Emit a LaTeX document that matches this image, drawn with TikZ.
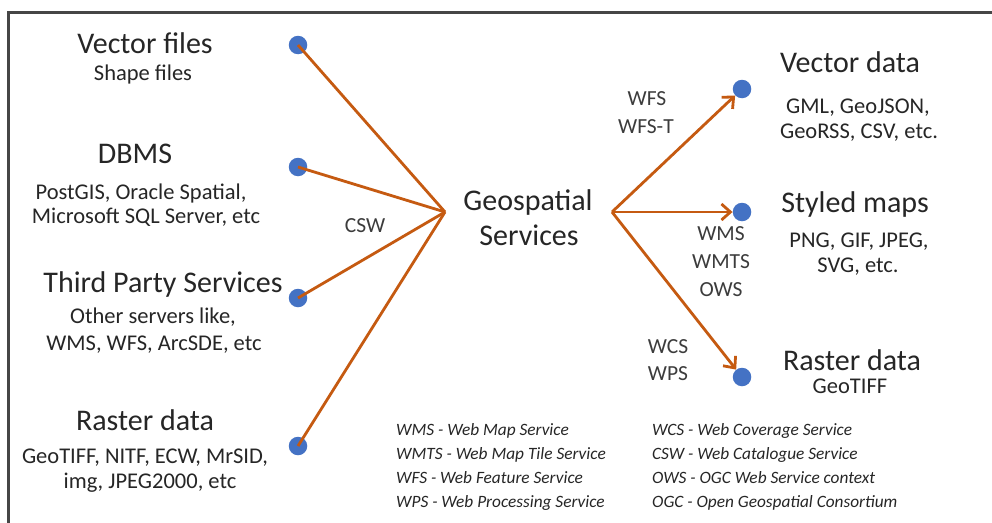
\documentclass[tikz,border=0pt]{standalone}
\usepackage{fontspec}
\setmainfont{Carlito}
\usetikzlibrary{arrows.meta}
\definecolor{linec}{RGB}{197,90,17}
\definecolor{dotc}{RGB}{68,114,196}
\definecolor{txtc}{RGB}{38,38,38}
\definecolor{framec}{RGB}{70,70,70}
\tikzset{
  dotnode/.style={circle,fill=dotc,draw=none,minimum size=18.5pt,inner sep=0pt},
  conn/.style={draw=linec,line width=2.8pt},
  arr/.style={conn,-{Straight Barb[length=9pt,width=16pt,line width=2.8pt]}},
  head/.style={anchor=base,inner sep=0pt,text=txtc,font=\fontsize{30}{36}\selectfont},
  sub/.style={anchor=base,inner sep=0pt,text=txtc,font=\fontsize{22.5}{27}\selectfont},
  lab/.style={anchor=base,inner sep=0pt,text=txtc!90,font=\fontsize{21.5}{26}\selectfont},
  leg/.style={anchor=base west,inner sep=0pt,text=txtc,font=\fontsize{17.3}{21}\selectfont\itshape},
}
\begin{document}
\begin{tikzpicture}[x=1pt,y=-1pt]
\useasboundingbox (0,0) rectangle (992,522);
\fill[white] (0,0) rectangle (992,522);
\draw[framec,line width=3pt] (8,530) -- (8,12) -- (1000,12);

% hubs
\coordinate (hubL) at (445,212);
\coordinate (hubR) at (612,212);

% left dots
\node[dotnode] (d1) at (298,45) {};
\node[dotnode] (d2) at (298,167) {};
\node[dotnode] (d3) at (298,298) {};
\node[dotnode] (d4) at (298,446) {};
% right dots
\node[dotnode] (r1) at (742,89) {};
\node[dotnode] (r2) at (742,212) {};
\node[dotnode] (r3) at (742,377) {};

\foreach \d in {d1,d2,d3,d4} \draw[conn] (\d.center) -- (hubL);
\foreach \r in {r1,r2,r3} \draw[arr] (hubR) -- (\r);

% left texts
\node[head] (t1) at (145,53) {Vector files};
\node[sub] (t1a) at (143,80) {Shape files};
\node[head] (t2) at (135,163) {DBMS};
\node[sub] (t2a) at (141,199) {PostGIS, Oracle Spatial,};
\node[sub] (t2b) at (146,223) {Microsoft SQL Server, etc};
\node[head] (t3) at (163,292) {Third Party Services};
\node[sub] (t3a) at (153,323) {Other servers like,};
\node[sub] (t3b) at (154,350) {WMS, WFS, ArcSDE, etc};
\node[head] (t4) at (145,430) {Raster data};
\node[sub] (t4a) at (145,463) {GeoTIFF, NITF, ECW, MrSID,};
\node[sub] (t4b) at (150,488) {img, JPEG2000, etc};

% centre
\node[head] (g1) at (528,210) {Geospatial};
\node[head] (g2) at (529,245) {Services};
\node[lab] (csw) at (365,232) {CSW};

% right labels
\node[lab] (l1) at (647,105) {WFS};
\node[lab] (l2) at (646,133) {WFS-T};
\node[lab] (l3) at (721,240) {WMS};
\node[lab] (l4) at (721,268) {WMTS};
\node[lab] (l5) at (721,296) {OWS};
\node[lab] (l6) at (668,353) {WCS};
\node[lab] (l7) at (668,380) {WPS};

% right texts
\node[head] (o1) at (850,72) {Vector data};
\node[sub] (o1a) at (858,113) {GML, GeoJSON,};
\node[sub] (o1b) at (859,138) {GeoRSS, CSV, etc.};
\node[head] (o2) at (855,212) {Styled maps};
\node[sub] (o2a) at (859,247) {PNG, GIF, JPEG,};
\node[sub] (o2b) at (858,272) {SVG, etc.};
\node[head] (o3) at (852,370) {Raster data};
\node[sub] (o3a) at (850,393) {GeoTIFF};

% legend
\node[leg] (k1) at (396,435) {WMS - Web Map Service};
\node[leg] (k2) at (396,459) {WMTS - Web Map Tile Service};
\node[leg] (k3) at (396,483) {WFS - Web Feature Service};
\node[leg] (k4) at (396,507) {WPS - Web Processing Service};
\node[leg] (k5) at (652,435) {WCS - Web Coverage Service};
\node[leg] (k6) at (652,459) {CSW - Web Catalogue Service};
\node[leg] (k7) at (652,483) {OWS - OGC Web Service context};
\node[leg] (k8) at (652,507) {OGC - Open Geospatial Consortium};
\end{tikzpicture}
\end{document}
